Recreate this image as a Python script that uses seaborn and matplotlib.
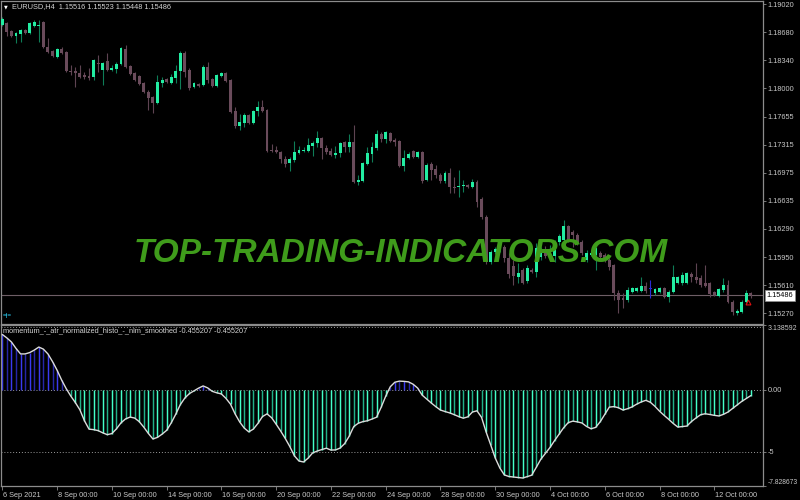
import numpy as np
import pandas as pd
import matplotlib
matplotlib.use("Agg")
import matplotlib.pyplot as plt
import matplotlib.transforms as mtransforms
import seaborn as sns

# ---------------- data (EURUSD H4, 6 Sep 2021 -> 13 Oct 2021) ----------------
open_ = [1.18766, 1.18790, 1.18693, 1.18632, 1.18656, 1.18705, 1.18668, 1.18753, 1.18753, 1.18802,
         1.18499, 1.18450, 1.18377, 1.18474, 1.18438, 1.18207, 1.18207, 1.18183, 1.18159, 1.18147,
         1.18135, 1.18310, 1.18219, 1.18329, 1.18219, 1.18232, 1.18292, 1.18474, 1.18268, 1.18183,
         1.18147, 1.18062, 1.17952, 1.17892, 1.17819, 1.18062, 1.18110, 1.18062, 1.18122, 1.18207,
         1.18426, 1.18219, 1.18013, 1.18050, 1.18037, 1.18256, 1.18110, 1.18025, 1.18147, 1.18183,
         1.18098, 1.17722, 1.17539, 1.17576, 1.17673, 1.17576, 1.17722, 1.17770, 1.17734, 1.17248,
         1.17248, 1.17224, 1.17139, 1.17091, 1.17127, 1.17212, 1.17236, 1.17236, 1.17297, 1.17333,
         1.17394, 1.17273, 1.17236, 1.17194, 1.17212, 1.17345, 1.17285, 1.17345, 1.16860, 1.16872,
         1.17078, 1.17200, 1.17273, 1.17443, 1.17382, 1.17455, 1.17370, 1.17358, 1.17054, 1.17151,
         1.17236, 1.17163, 1.17224, 1.16884, 1.17078, 1.17018, 1.16945, 1.16872, 1.16969, 1.16800,
         1.16794, 1.16812, 1.16824, 1.16800, 1.16860, 1.16654, 1.16436, 1.15890, 1.16011, 1.16035,
         1.16072, 1.15938, 1.15841, 1.15708, 1.15792, 1.15659, 1.15792, 1.15768, 1.15950, 1.16035,
         1.15950, 1.15962, 1.16132, 1.16156, 1.16327, 1.16254, 1.16217, 1.16132, 1.15914, 1.15975,
         1.15975, 1.15999, 1.15975, 1.15914, 1.15853, 1.15513, 1.15452, 1.15428, 1.15525, 1.15537,
         1.15537, 1.15598, 1.15561, 1.15513, 1.15525, 1.15574, 1.15464, 1.15525, 1.15635, 1.15635,
         1.15635, 1.15744, 1.15708, 1.15695, 1.15635, 1.15635, 1.15525, 1.15476, 1.15549, 1.15610,
         1.15404, 1.15270, 1.15282, 1.15404, 1.15516]

high = [1.18863, 1.18802, 1.18705, 1.18681, 1.18717, 1.18717, 1.18802, 1.18826, 1.18826, 1.18814,
        1.18608, 1.18462, 1.18486, 1.18499, 1.18450, 1.18280, 1.18256, 1.18280, 1.18195, 1.18244,
        1.18353, 1.18402, 1.18317, 1.18426, 1.18280, 1.18317, 1.18499, 1.18523, 1.18280, 1.18195,
        1.18159, 1.18074, 1.17977, 1.17904, 1.18159, 1.18135, 1.18122, 1.18171, 1.18280, 1.18450,
        1.18450, 1.18244, 1.18074, 1.18062, 1.18280, 1.18317, 1.18122, 1.18171, 1.18195, 1.18195,
        1.18110, 1.17770, 1.17685, 1.17697, 1.17685, 1.17734, 1.17843, 1.17855, 1.17746, 1.17321,
        1.17297, 1.17236, 1.17175, 1.17163, 1.17358, 1.17297, 1.17285, 1.17394, 1.17358, 1.17479,
        1.17406, 1.17309, 1.17273, 1.17297, 1.17345, 1.17358, 1.17443, 1.17552, 1.16945, 1.17103,
        1.17285, 1.17345, 1.17491, 1.17467, 1.17479, 1.17467, 1.17394, 1.17370, 1.17248, 1.17224,
        1.17248, 1.17236, 1.17236, 1.17091, 1.17103, 1.17066, 1.16969, 1.16994, 1.17030, 1.16921,
        1.17006, 1.16884, 1.16836, 1.16897, 1.16884, 1.16678, 1.16460, 1.16035, 1.16072, 1.16096,
        1.16096, 1.15999, 1.15914, 1.15877, 1.15817, 1.15853, 1.15817, 1.16120, 1.16072, 1.16084,
        1.16096, 1.16156, 1.16229, 1.16399, 1.16339, 1.16278, 1.16242, 1.16156, 1.16035, 1.16011,
        1.16072, 1.16023, 1.15999, 1.15938, 1.15865, 1.15550, 1.15513, 1.15586, 1.15586, 1.15586,
        1.15708, 1.15647, 1.15671, 1.15574, 1.15586, 1.15586, 1.15549, 1.15853, 1.15720, 1.15768,
        1.15768, 1.15768, 1.15877, 1.15732, 1.15853, 1.15647, 1.15537, 1.15574, 1.15695, 1.15671,
        1.15428, 1.15319, 1.15428, 1.15549, 1.15523]

low = [1.18753, 1.18632, 1.18620, 1.18547, 1.18559, 1.18656, 1.18656, 1.18741, 1.18559, 1.18486,
       1.18426, 1.18377, 1.18365, 1.18414, 1.18195, 1.18159, 1.18013, 1.18122, 1.18110, 1.18098,
       1.18098, 1.18195, 1.18037, 1.18207, 1.18207, 1.18183, 1.18280, 1.18244, 1.18159, 1.18086,
       1.18037, 1.17940, 1.17734, 1.17698, 1.17807, 1.18013, 1.18062, 1.18050, 1.18062, 1.17989,
       1.18135, 1.17977, 1.18001, 1.18013, 1.18025, 1.18062, 1.18013, 1.18013, 1.18135, 1.18074,
       1.17698, 1.17515, 1.17491, 1.17527, 1.17564, 1.17564, 1.17661, 1.17710, 1.17224, 1.17224,
       1.17212, 1.17091, 1.17042, 1.16994, 1.17103, 1.17200, 1.17224, 1.17224, 1.17175, 1.17285,
       1.17139, 1.17200, 1.17175, 1.17151, 1.17163, 1.17224, 1.17224, 1.16848, 1.16824, 1.16860,
       1.17066, 1.17103, 1.17248, 1.17345, 1.17333, 1.17345, 1.17297, 1.17042, 1.16994, 1.17139,
       1.17151, 1.17151, 1.16848, 1.16872, 1.16884, 1.16909, 1.16848, 1.16848, 1.16727, 1.16727,
       1.16678, 1.16739, 1.16787, 1.16787, 1.16557, 1.16411, 1.15865, 1.15865, 1.15987, 1.16011,
       1.15890, 1.15695, 1.15610, 1.15635, 1.15622, 1.15635, 1.15756, 1.15708, 1.15914, 1.15938,
       1.15914, 1.15890, 1.16096, 1.16108, 1.16132, 1.16072, 1.16096, 1.15975, 1.15890, 1.15962,
       1.15792, 1.15938, 1.15890, 1.15792, 1.15428, 1.15270, 1.15331, 1.15404, 1.15513, 1.15525,
       1.15525, 1.15513, 1.15452, 1.15489, 1.15513, 1.15452, 1.15404, 1.15513, 1.15622, 1.15610,
       1.15622, 1.15647, 1.15635, 1.15586, 1.15586, 1.15464, 1.15476, 1.15464, 1.15525, 1.15392,
       1.15246, 1.15246, 1.15270, 1.15392, 1.15448]

close = [1.18838, 1.18681, 1.18632, 1.18668, 1.18705, 1.18668, 1.18790, 1.18802, 1.18766, 1.18499,
         1.18438, 1.18389, 1.18474, 1.18426, 1.18207, 1.18195, 1.18183, 1.18135, 1.18135, 1.18122,
         1.18341, 1.18298, 1.18304, 1.18219, 1.18244, 1.18292, 1.18486, 1.18256, 1.18171, 1.18098,
         1.18050, 1.17952, 1.17880, 1.17819, 1.18074, 1.18098, 1.18074, 1.18135, 1.18207, 1.18426,
         1.18195, 1.18001, 1.18062, 1.18025, 1.18256, 1.18098, 1.18025, 1.18159, 1.18183, 1.18086,
         1.17710, 1.17539, 1.17588, 1.17673, 1.17576, 1.17722, 1.17770, 1.17722, 1.17236, 1.17236,
         1.17224, 1.17139, 1.17078, 1.17139, 1.17224, 1.17248, 1.17248, 1.17309, 1.17333, 1.17394,
         1.17273, 1.17224, 1.17188, 1.17212, 1.17333, 1.17285, 1.17345, 1.16860, 1.16884, 1.17091,
         1.17212, 1.17285, 1.17443, 1.17382, 1.17467, 1.17358, 1.17345, 1.17054, 1.17151, 1.17200,
         1.17163, 1.17224, 1.16872, 1.17066, 1.17006, 1.16945, 1.16872, 1.16969, 1.16800, 1.16787,
         1.16812, 1.16824, 1.16800, 1.16860, 1.16618, 1.16436, 1.15890, 1.16011, 1.16047, 1.16072,
         1.15938, 1.15744, 1.15720, 1.15756, 1.15635, 1.15817, 1.15768, 1.16059, 1.16035, 1.15962,
         1.16035, 1.16132, 1.16205, 1.16327, 1.16156, 1.16217, 1.16120, 1.15999, 1.15999, 1.15999,
         1.16059, 1.15950, 1.15914, 1.15829, 1.15513, 1.15428, 1.15428, 1.15550, 1.15574, 1.15574,
         1.15598, 1.15537, 1.15561, 1.15561, 1.15574, 1.15464, 1.15525, 1.15708, 1.15708, 1.15732,
         1.15756, 1.15708, 1.15671, 1.15610, 1.15598, 1.15501, 1.15489, 1.15561, 1.15610, 1.15404,
         1.15282, 1.15294, 1.15404, 1.15513, 1.15486]

# momentum - atr normalized histo - nlm smoothed
indicator = [4.51, 4.23, 3.90, 3.38, 2.93, 2.93, 3.04, 3.24, 3.49, 3.32,
             2.93, 2.31, 1.61, 0.81, 0.11, -0.49, -1.02, -1.61, -2.50, -3.18,
             -3.22, -3.30, -3.48, -3.63, -3.54, -3.16, -2.67, -2.35, -2.20, -2.28,
             -2.57, -3.02, -3.53, -3.98, -3.85, -3.59, -3.28, -2.68, -1.97, -1.19,
             -0.65, -0.29, -0.07, 0.15, 0.33, 0.17, -0.11, -0.23, -0.32, -0.68,
             -1.15, -1.94, -2.59, -3.09, -3.40, -3.18, -2.72, -2.16, -1.94, -2.25,
             -2.78, -3.34, -3.94, -4.60, -5.35, -5.77, -5.85, -5.54, -5.11, -4.96,
             -4.84, -4.73, -4.88, -4.87, -4.72, -4.36, -3.76, -2.97, -2.70, -2.57,
             -2.50, -2.36, -2.21, -1.41, -0.51, 0.26, 0.63, 0.72, 0.70, 0.66,
             0.47, 0.16, -0.42, -0.74, -1.06, -1.36, -1.63, -1.75, -1.86, -2.00,
             -2.16, -2.29, -2.18, -1.79, -1.69, -2.22, -3.41, -4.45, -5.52, -6.33,
             -6.90, -7.03, -7.07, -7.11, -7.15, -7.04, -6.92, -6.28, -5.62, -5.14,
             -4.67, -4.11, -3.59, -3.06, -2.65, -2.53, -2.59, -2.68, -2.96, -3.15,
             -3.04, -2.58, -1.98, -1.39, -1.35, -1.44, -1.63, -1.52, -1.37, -1.15,
             -0.97, -0.84, -1.00, -1.33, -1.72, -2.06, -2.38, -2.72, -3.01, -2.97,
             -2.93, -2.56, -2.27, -2.01, -1.93, -1.99, -2.06, -2.11, -1.98, -1.79,
             -1.50, -1.22, -0.93, -0.69, -0.455207]

price_ticks = [1.19020, 1.18680, 1.18340, 1.18000, 1.17655, 1.17315,
               1.16975, 1.16635, 1.16290, 1.15950, 1.15610, 1.15270]
date_bars = [0, 12, 24, 36, 48, 60, 72, 84, 96, 108, 120, 132, 144, 156]
date_labels = ["6 Sep 2021", "8 Sep 00:00", "10 Sep 00:00", "14 Sep 00:00", "16 Sep 00:00",
               "20 Sep 00:00", "22 Sep 00:00", "24 Sep 00:00", "28 Sep 00:00", "30 Sep 00:00",
               "4 Oct 00:00", "6 Oct 00:00", "8 Oct 00:00", "12 Oct 00:00"]
ind_levels = [5.12, 0.0, -5.0]
ind_tick_vals = [0.0, -5.0]
ind_tick_labels = ["0.00", "-5"]
ind_max_label = "3.138592"
ind_min_label = "-7.828673"
symbol = "EURUSD,H4"
indicator_name = "momentum_-_atr_normalized_histo_-_nlm_smoothed"
sell_arrow_price = 1.15400

# ---------------- styling ----------------
sns.set_theme(style="dark", rc={"axes.facecolor": "black", "figure.facecolor": "black"})
plt.rcParams["font.family"] = ["Liberation Sans", "DejaVu Sans"]

BG = "black"
GRID = "#8c8c8c"
TXT = "#c8c8c8"
BULL = "#22eda2"
BULL_WICK = "#0e7d57"
BEAR = "#6a4b5b"
BEAR_WICK = "#5e4452"
DOJI = "#2b2bd8"
FS = 5.3

W, H = 800, 500
fig = plt.figure(figsize=(8, 5), dpi=100, facecolor=BG)


def px_rect(x0, y0, x1, y1):
    return [x0 / W, 1 - y1 / H, (x1 - x0) / W, (y1 - y0) / H]


ax = fig.add_axes(px_rect(1, 1, 763, 324))
ax2 = fig.add_axes(px_rect(1, 325, 763, 486))

df = pd.DataFrame({"open": open_, "high": high, "low": low, "close": close})
df["bar"] = np.arange(len(df))
bull = df["close"] > df["open"]
bear = df["close"] < df["open"]

xlim = (-0.285, 166.67)

# ---------------- price panel ----------------
ax.set_facecolor(BG)
wick_cols = np.where(bull, BULL_WICK, np.where(bear, BEAR_WICK, DOJI))
ax.vlines(df["bar"], df["low"], df["high"], colors=wick_cols, linewidth=0.8, zorder=2)
body_bottom = df[["open", "close"]].min(axis=1)
body_h = (df["close"] - df["open"]).abs().clip(lower=0.00009)
body_cols = np.where(bull, BULL, np.where(bear, BEAR, DOJI))
ax.bar(df["bar"], body_h, bottom=body_bottom, width=0.64, color=body_cols,
       linewidth=0, zorder=3)

last_close = close[-1]
ax.axhline(last_close, color="#6e5e66", linewidth=0.8, zorder=1)
ax.plot([df["bar"].iloc[-1] - 0.6], [sell_arrow_price], marker="^", markersize=3.5,
        markerfacecolor="none", markeredgecolor="#e01010", markeredgewidth=0.8,
        linestyle="none", zorder=4)

ax.set_xlim(*xlim)
ax.set_ylim(1.15137, 1.19057)
ax.set_xticks([])
ax.yaxis.tick_right()
ax.set_yticks(price_ticks)
ax.set_yticklabels([f"{v:.5f}" for v in price_ticks])
ax.tick_params(axis="y", which="both", direction="out", length=1.8, width=0.6,
               color=GRID, labelcolor=TXT, labelsize=FS, pad=1.3, right=True, left=False)
for s in ax.spines.values():
    s.set_color(GRID)
    s.set_linewidth(0.9)
ax.grid(False)

trans = mtransforms.blended_transform_factory(ax.transAxes, ax.transData)
ax.text(1.0045, last_close, f"{last_close:.5f}", transform=trans, ha="left", va="center",
        fontsize=FS, color="black", zorder=6,
        bbox=dict(boxstyle="square,pad=0.25", fc="white", ec="#909090", lw=0.5))

# watermark
fig.text(401 / W, 1 - 262 / H, "TOP-TRADING-INDICATORS.COM", ha="center", va="baseline",
         fontsize=24, fontweight="bold", fontstyle="italic", color="#3f9c1b",
         family=["Liberation Sans", "DejaVu Sans"], zorder=10)

# header texts
fig.text(4 / W, 1 - 6.5 / H, "\u25bc", fontsize=3.5, color="white", va="center",
         family=["DejaVu Sans"])
fig.text(12 / W, 1 - 7 / H,
         f"{symbol}  {open_[-1]:.5f} {high[-1]:.5f} {low[-1]:.5f} {close[-1]:.5f}",
         fontsize=FS, color="#d4d4d4", va="center")
fig.text(3 / W, 1 - 316 / H, "=|=", fontsize=4.5, color="#22a6c6", va="center",
         fontweight="bold")

# ---------------- indicator panel ----------------
ax2.set_facecolor(BG)
ind = np.array(indicator)
bars = df["bar"].to_numpy()
pos = ind > 0
alt = (bars % 2) == 0
hist_cols = np.where(pos, np.where(alt, "#3a3af0", "#2626a8"),
                     np.where(alt, "#44ffc8", "#22b088"))
ax2.vlines(bars, 0, ind, colors=hist_cols, linewidth=1.05, zorder=2)
for lv in ind_levels:
    ax2.axhline(lv, color="#9a9a9a", linewidth=0.7, linestyle=(0, (1, 2)), zorder=1)
sns.lineplot(x=bars, y=ind, ax=ax2, color="#dcdcdc", linewidth=1.0, zorder=3)

ax2.set_xlim(*xlim)
ylo, yhi = -7.80, 5.28
ax2.set_ylim(ylo, yhi)
ax2.yaxis.tick_right()
ax2.set_yticks([yhi] + ind_tick_vals + [ylo])
ax2.set_yticklabels([ind_max_label] + ind_tick_labels + [ind_min_label])
ax2.tick_params(axis="y", direction="out", length=1.8, width=0.6, color=GRID,
                labelcolor=TXT, labelsize=FS, pad=1.3, right=True, left=False)
ylabels = ax2.get_yticklabels()
ylabels[0].set_verticalalignment("top")
ylabels[-1].set_verticalalignment("bottom")
ylabels[-1].set_fontsize(4.9)
ylabels[0].set_fontsize(5.0)
ax2.set_ylabel("")
ax2.set_xlabel("")

ax2.set_xticks(date_bars)
ax2.set_xticklabels(date_labels)
ax2.tick_params(axis="x", direction="out", length=3, width=0.6, color=GRID,
                labelcolor=TXT, labelsize=FS, pad=1.0, bottom=True)
offset = mtransforms.ScaledTranslation(1 / 100, 0, fig.dpi_scale_trans)
for lab in ax2.get_xticklabels():
    lab.set_horizontalalignment("left")
    lab.set_transform(lab.get_transform() + offset)
for s in ax2.spines.values():
    s.set_color(GRID)
    s.set_linewidth(0.9)
ax2.grid(False)

ax2.text(0.0025, 0.985, f"{indicator_name} {indicator[-1]:.6f} {indicator[-1]:.6f}",
         transform=ax2.transAxes, ha="left", va="top", fontsize=FS, color="#d4d4d4",
         zorder=6)

fig.savefig("out.png", dpi=100, facecolor=BG)
